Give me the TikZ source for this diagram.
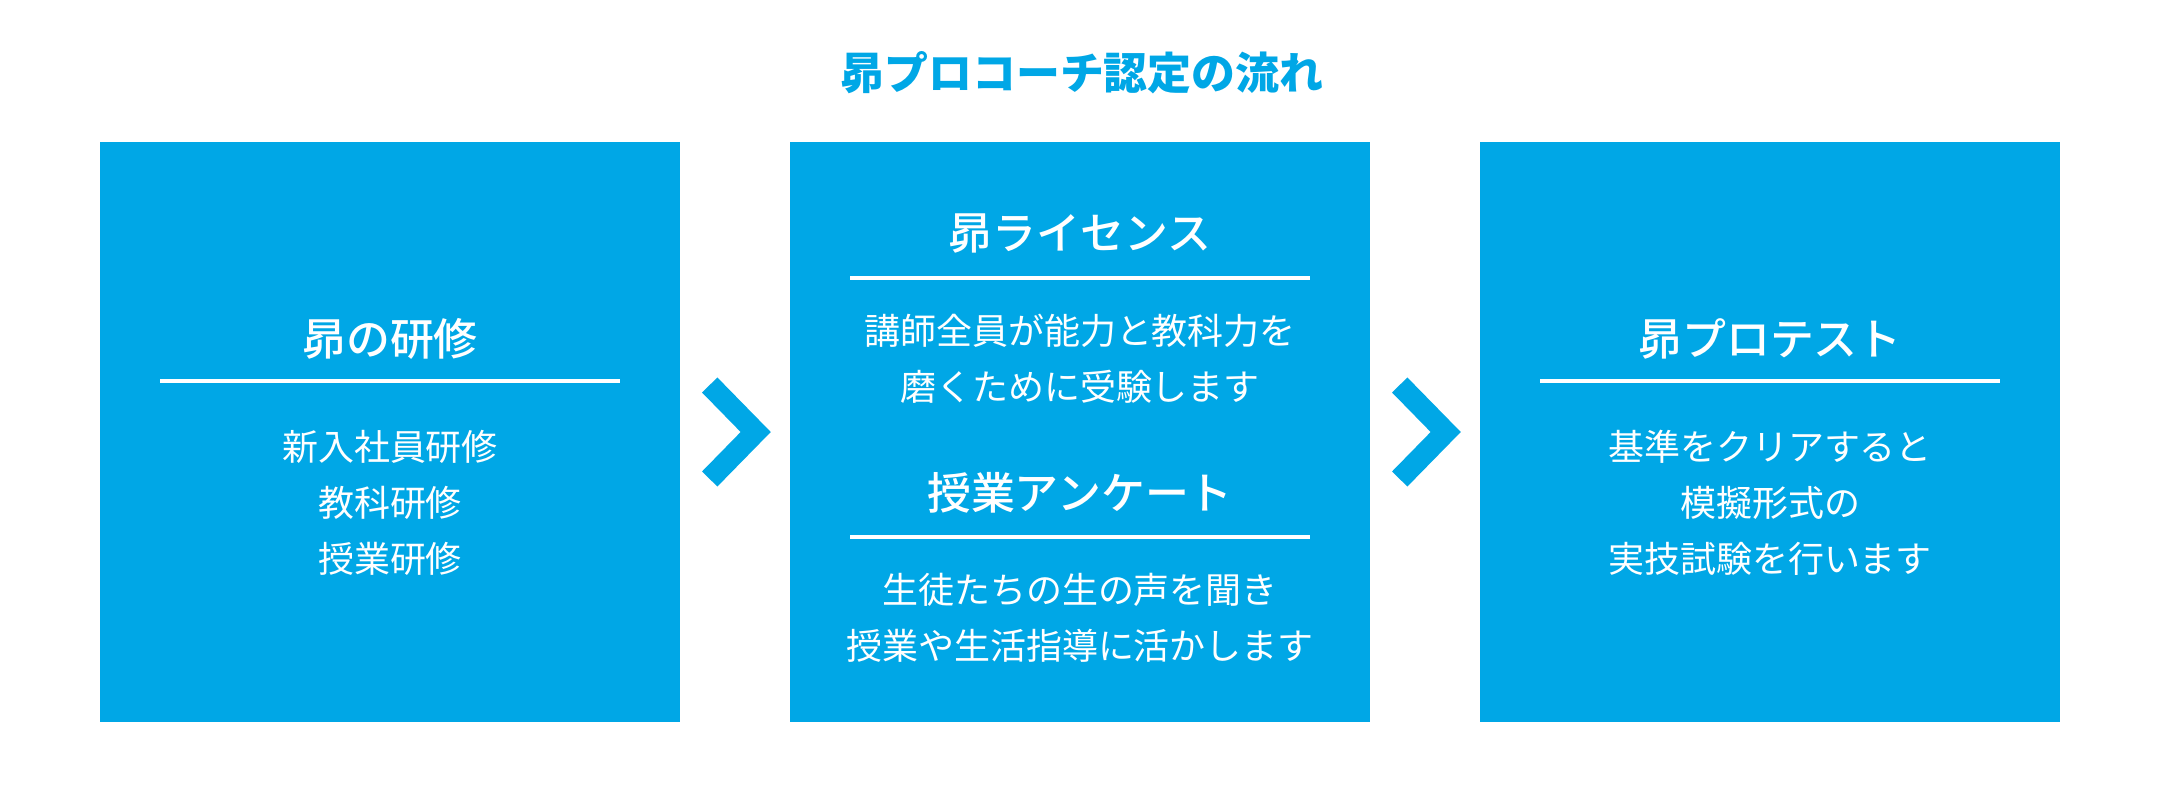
\documentclass[tikz,border=0pt]{standalone}
\usepackage{fontspec}
\setmainfont{Noto Sans CJK JP}
\newfontfamily\jpmed{Noto Sans CJK JP}[UprightFont=* Medium]
\usetikzlibrary{calc}
\definecolor{subaru}{RGB}{0,167,230}
\tikzset{
  box/.style={fill=subaru, draw=none, minimum width=58mm, minimum height=58mm, inner sep=0pt},
  head/.style={anchor=base, inner sep=0pt, text=white, font=\fontsize{12.5pt}{14pt}\selectfont\jpmed},
  body/.style={anchor=base, inner sep=0pt, text=white, font=\fontsize{10.24pt}{12pt}\selectfont},
  title/.style={anchor=base, inner sep=0pt, text=subaru, font=\fontsize{12.5pt}{14pt}\selectfont\bfseries},
  rulebar/.style={draw=white, line width=0.4mm},
  chev/.style={draw=subaru, line width=2.15mm, line join=miter, line cap=butt}
}
\begin{document}
\begin{tikzpicture}[x=0.1mm, y=-0.1mm]
\useasboundingbox[fill=white] (0,0) rectangle (2160,810);
% title
\node[title] (t) at (1082,89) {昴プロコーチ認定の流れ};
% boxes
\node[box] (b1) at (390,432) {};
\node[box] (b2) at (1080,432) {};
\node[box] (b3) at (1770,432) {};
% chevrons
\draw[chev] ($(b1.east)+(29,-47)$) -- ($(b1.east)+(75,0)$) -- ($(b1.east)+(29,47)$);
\draw[chev] ($(b2.east)+(29,-47)$) -- ($(b2.east)+(75,0)$) -- ($(b2.east)+(29,47)$);
% box 1
\node[head] (h1) at (390,355) {昴の研修};
\draw[rulebar] (160,381) -- (620,381);
\node[body] (l11) at (390,460) {新入社員研修};
\node[body] (l12) at (390,516) {教科研修};
\node[body] (l13) at (390,572) {授業研修};
% box 2
\node[head] (h2a) at (1080,249) {昴ライセンス};
\draw[rulebar] (850,278) -- (1310,278);
\node[body] (l21) at (1080,344) {講師全員が能力と教科力を};
\node[body] (l22) at (1080,400) {磨くために受験します};
\node[head] (h2b) at (1080,509) {授業アンケート};
\draw[rulebar] (850,537) -- (1310,537);
\node[body] (l23) at (1080,603) {生徒たちの生の声を聞き};
\node[body] (l24) at (1080,659) {授業や生活指導に活かします};
% box 3
\node[head] (h3) at (1770,355) {昴プロテスト};
\draw[rulebar] (1540,381) -- (2000,381);
\node[body] (l31) at (1770,460) {基準をクリアすると};
\node[body] (l32) at (1770,516) {模擬形式の};
\node[body] (l33) at (1770,572) {実技試験を行います};
\end{tikzpicture}
\end{document}
